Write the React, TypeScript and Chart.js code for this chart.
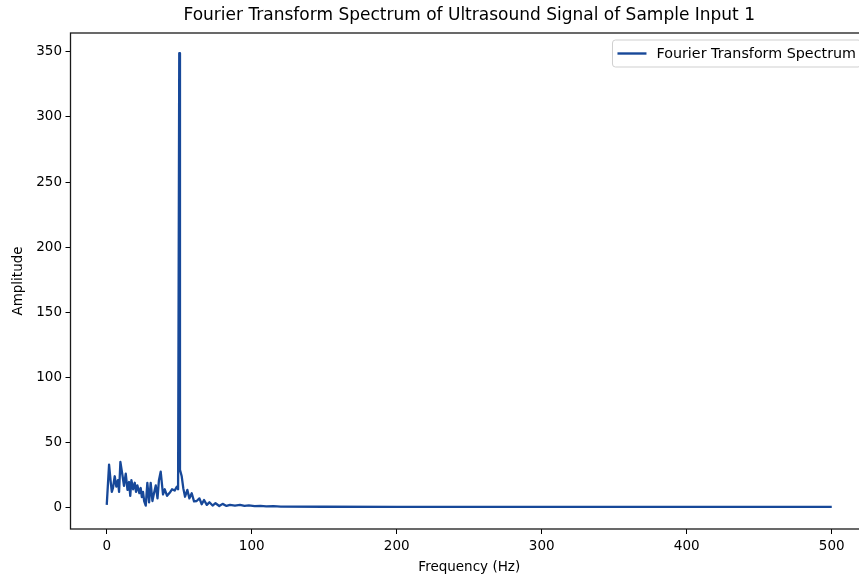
import React, { useEffect, useRef } from "react";
import { Chart, registerables } from "chart.js";

Chart.register(...registerables);

const TITLE = "Fourier Transform Spectrum of Ultrasound Signal of Sample Input 1";
const SERIES_LABEL = "Fourier Transform Spectrum";
const X_LABEL = "Frequency (Hz)";
const Y_LABEL = "Amplitude";

const frequencies = [
  0, 1.6, 2.7, 3.5, 4.3, 5.5, 6.6, 7.7, 8.5, 9.4, 10.8, 11.9, 13.1, 14.3, 15.4, 16.2, 17, 18.2,
  19.3, 20.2, 21.1, 22.5, 23.4, 24.2, 25, 25.8, 26.9, 28, 29.2, 30.3, 31.5, 32.4, 33.8, 35, 36,
  37.2, 38.8, 40, 41.6, 43.4, 45, 46.8, 48.4, 49.2, 50, 50.5, 51.7, 52.8, 54, 55.6, 57, 58.6,
  60.2, 62, 63.9, 65.5, 67.1, 69, 70.8, 73, 75, 77.6, 79.9, 82.6, 85, 88.4, 91.9, 95, 98, 102,
  106, 110, 115, 120, 150, 200, 250, 300, 350, 400, 450, 500,
];
const amplitudes = [
  2, 33, 20, 12, 15, 24, 16, 21, 12, 35, 25, 16.6, 26, 13.5, 19.6, 9, 21, 14,
  19, 12, 17, 11, 15, 8, 12, 5, 1.5, 19, 4, 19, 5, 10, 17, 7, 21,
  27.5, 10, 14, 9, 11.3, 14, 13, 16, 14, 349, 29, 24, 14.7, 8.3, 13.5, 7, 11,
  4.7, 5, 7, 2.5, 5.8, 2, 4, 1.5, 3.3, 1.2, 2.8, 1.2, 2, 1.5, 2, 1.2, 1.6, 1,
  1.3, 0.9, 1, 0.7, 0.6, 0.5, 0.5, 0.5, 0.5, 0.5, 0.5, 0.5,
];
const xTicks = [0, 100, 200, 300, 400, 500];
const yTicks = [0, 50, 100, 150, 200, 250, 300, 350];

const LINE_COLOR = "#174899";
const FONT_FAMILY = "'DejaVu Sans', sans-serif";

const framePlugin = {
  id: "frameAndLegend",
  afterDraw(chart: any) {
    const { ctx, chartArea: a } = chart;
    ctx.save();
    // spines
    ctx.strokeStyle = "#1a1a1a";
    ctx.lineWidth = 1.3;
    ctx.strokeRect(a.left, a.top, a.right - a.left, a.bottom - a.top);

    // legend (upper right, inside axes)
    const ds = chart.data.datasets[0];
    ctx.font = `14.3px ${FONT_FAMILY}`;
    const tw = ctx.measureText(ds.label).width;
    const boxRight = a.right - 7;
    const boxTop = a.top + 7;
    const boxH = 27;
    const boxLeft = boxRight - (5 + 29 + 10 + tw + 5);
    ctx.beginPath();
    if ((ctx as any).roundRect) {
      (ctx as any).roundRect(boxLeft, boxTop, boxRight - boxLeft, boxH, 3);
    } else {
      ctx.rect(boxLeft, boxTop, boxRight - boxLeft, boxH);
    }
    ctx.fillStyle = "rgba(255,255,255,0.85)";
    ctx.fill();
    ctx.strokeStyle = "#cfcfcf";
    ctx.lineWidth = 1;
    ctx.stroke();

    const cy = boxTop + boxH / 2;
    ctx.beginPath();
    ctx.moveTo(boxLeft + 5, cy);
    ctx.lineTo(boxLeft + 34, cy);
    ctx.strokeStyle = ds.borderColor;
    ctx.lineWidth = 2.4;
    ctx.stroke();

    ctx.fillStyle = "#000";
    ctx.textAlign = "left";
    ctx.textBaseline = "middle";
    ctx.fillText(ds.label, boxLeft + 44, cy + 1);
    ctx.restore();
  },
};

export default function App() {
  const canvasRef = useRef<HTMLCanvasElement | null>(null);

  useEffect(() => {
    const canvas = canvasRef.current;
    if (!canvas) return;
    const tickFont = { family: FONT_FAMILY, size: 13.5 };
    const chart = new Chart(canvas, {
      type: "line",
      data: {
        datasets: [
          {
            label: SERIES_LABEL,
            data: frequencies.map((f, i) => ({ x: f, y: amplitudes[i] })),
            borderColor: LINE_COLOR,
            backgroundColor: LINE_COLOR,
            borderWidth: 2.3,
            pointRadius: 0,
            fill: false,
            tension: 0,
            borderJoinStyle: "round",
          },
        ],
      },
      options: {
        animation: false,
        responsive: false,
        devicePixelRatio: 1,
        layout: { padding: { top: 0, left: 0, right: 12, bottom: 0 } },
        plugins: {
          legend: { display: false },
          tooltip: { enabled: false },
          title: {
            display: true,
            text: TITLE,
            fullSize: false,
            color: "#000",
            font: { family: FONT_FAMILY, size: 17, weight: "normal" },
            padding: { top: 5.8, bottom: 6.8 },
          },
        },
        scales: {
          x: {
            type: "linear",
            min: -25,
            max: 525,
            afterBuildTicks: (s: any) => {
              s.ticks = xTicks.map((v) => ({ value: v }));
            },
            afterFit: (s: any) => {
              s.height = 52;
            },
            ticks: {
              font: tickFont,
              color: "#000",
              padding: 4,
              maxRotation: 0,
              autoSkip: false,
              callback: (v: any) => String(v),
            },
            grid: {
              drawOnChartArea: false,
              drawTicks: true,
              tickLength: 5,
              color: "#000",
              lineWidth: 1,
            },
            border: { display: false },
            title: {
              display: true,
              text: X_LABEL,
              color: "#000",
              font: tickFont,
              padding: { top: 0, bottom: 5 },
            },
          },
          y: {
            type: "linear",
            min: -16.5,
            max: 364.5,
            afterBuildTicks: (s: any) => {
              s.ticks = yTicks.map((v) => ({ value: v }));
            },
            afterFit: (s: any) => {
              s.width = 70.5;
            },
            ticks: {
              font: tickFont,
              color: "#000",
              padding: 3.5,
              autoSkip: false,
              callback: (v: any) => String(v),
            },
            grid: {
              drawOnChartArea: false,
              drawTicks: true,
              tickLength: 5,
              color: "#000",
              lineWidth: 1,
            },
            border: { display: false },
            title: {
              display: true,
              text: Y_LABEL,
              color: "#000",
              font: tickFont,
              padding: { top: 10, bottom: 0 },
            },
          },
        },
      },
      plugins: [framePlugin],
    } as any);
    return () => chart.destroy();
  }, []);

  return (
    <div
      style={{
        position: "fixed",
        left: 0,
        top: 0,
        width: 859,
        height: 581,
        overflow: "hidden",
        background: "#fff",
      }}
    >
      <canvas ref={canvasRef} width={880} height={581} style={{ display: "block" }} />
    </div>
  );
}
